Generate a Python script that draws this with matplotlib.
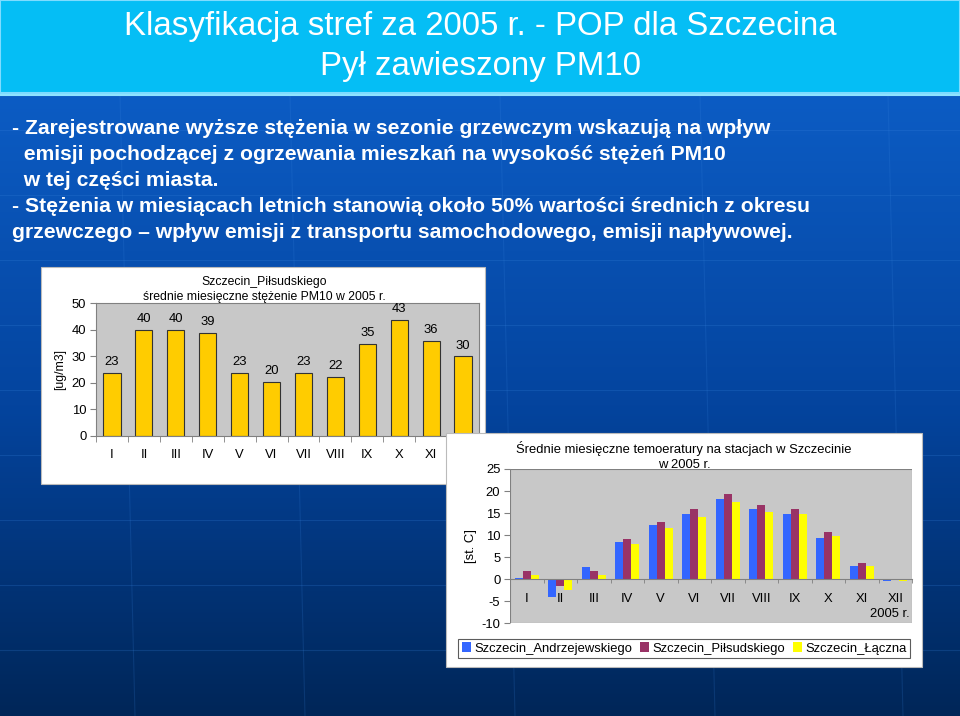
import numpy as np
import matplotlib
matplotlib.use("Agg")
import matplotlib.pyplot as plt
from matplotlib.patches import Rectangle

plt.rcParams['font.family'] = ['Liberation Sans', 'DejaVu Sans']
plt.rcParams['axes.unicode_minus'] = False

# ---------------- data ----------------
months = ["I", "II", "III", "IV", "V", "VI", "VII", "VIII", "IX", "X", "XI", "XII"]
pm10 = [23.6, 40.0, 40.0, 38.9, 23.6, 20.2, 23.6, 22.1, 34.7, 43.5, 35.8, 29.9]
pm10_labels = ["23", "40", "40", "39", "23", "20", "23", "22", "35", "43", "36", "30"]

temp_andrzejewskiego = [0.3, -4.1, 2.65, 8.3, 12.3, 14.8, 18.2, 16.0, 14.8, 9.4, 2.95, -0.5]
temp_pilsudskiego = [1.8, -1.7, 1.8, 9.2, 13.0, 16.0, 19.4, 16.9, 16.0, 10.6, 3.6, 0.0]
temp_laczna = [0.8, -2.5, 0.8, 7.9, 11.5, 14.0, 17.6, 15.3, 14.8, 9.7, 3.0, -0.5]
series_names = ["Szczecin_Andrzejewskiego", "Szczecin_Piłsudskiego", "Szczecin_Łączna"]
series_colors = ["#3366FF", "#993366", "#FFFF00"]

title_lines = ["Klasyfikacja stref za 2005 r. - POP dla Szczecina", "Pył zawieszony PM10"]
body_lines = [
    "- Zarejestrowane wyższe stężenia w sezonie grzewczym wskazują na wpływ",
    "  emisji pochodzącej z ogrzewania mieszkań na wysokość stężeń PM10",
    "  w tej części miasta.",
    "- Stężenia w miesiącach letnich stanowią około 50% wartości średnich z okresu",
    "grzewczego – wpływ emisji z transportu samochodowego, emisji napływowej.",
]

W, H = 960, 716
FS = 9.4
FS1 = 8.8
fig = plt.figure(figsize=(W / 100, H / 100), dpi=100)

def fbox(x0, y0, x1, y1):
    return [x0 / W, 1 - y1 / H, (x1 - x0) / W, (y1 - y0) / H]

# ---------------- background ----------------
bg = fig.add_axes([0, 0, 1, 1])
bg.set_xlim(0, W)
bg.set_ylim(H, 0)
bg.axis("off")
top = np.array([12, 92, 196]) / 255
mid = np.array([4, 68, 158]) / 255
bot = np.array([0, 38, 88]) / 255
t = np.linspace(0, 1, 300)[:, None]
grad = np.where(t < 0.5, top + (mid - top) * (t / 0.5), mid + (bot - mid) * ((t - 0.5) / 0.5))
grad = np.repeat(grad[:, None, :], 2, axis=1)
bg.imshow(grad, extent=[0, W, H, 95], aspect="auto", zorder=0)
for yy in [130, 195, 260, 325, 390, 455, 520, 585, 650]:
    bg.plot([0, W], [yy, yy], color="#3A86E0", lw=0.8, alpha=0.22, zorder=1)
for xx in [120, 290, 500, 700, 888]:
    bg.plot([xx, xx + 15], [95, H], color="#3A86E0", lw=0.8, alpha=0.18, zorder=1)
bg.add_patch(Rectangle((0, 0), W, 93, facecolor="#05BEF5", edgecolor="#7FDCFF", lw=1.5, zorder=2))
bg.plot([0, W], [94.5, 94.5], color="#8FE3FF", lw=1.5, zorder=2)

bg.text(480, 27, title_lines[0], color="white", fontsize=23.8, ha="center", va="center", zorder=3)
bg.text(480, 67, title_lines[1], color="white", fontsize=23.8, ha="center", va="center", zorder=3)
for i, line in enumerate(body_lines):
    bg.text(12, 129 + i * 26, line, color="white", fontsize=15.2, fontweight="bold",
            ha="left", va="center", zorder=3)

# ---------------- chart 1 ----------------
bg.add_patch(Rectangle((41, 267), 444, 217, facecolor="white", edgecolor="#BBBBBB", lw=0.8, zorder=4))
ax1 = fig.add_axes(fbox(96, 303, 479, 436))
ax1.set_zorder(5)
ax1.set_facecolor("#C8C8C8")
x = np.arange(len(months))
ax1.bar(x, pm10, width=0.54, color="#FFCC00", edgecolor="#333333", lw=0.8)
for xi, v, lab in zip(x, pm10, pm10_labels):
    ax1.annotate(lab, (xi, v), xytext=(0, 3.5), textcoords="offset points",
                 ha="center", va="bottom", fontsize=FS)
ax1.set_xlim(-0.5, 11.5)
ax1.set_ylim(0, 50)
ax1.set_yticks([0, 10, 20, 30, 40, 50])
ax1.set_xticks(x)
ax1.set_xticklabels(months)
ax1.set_xticks(np.arange(-0.5, 12, 1), minor=True)
ax1.tick_params(axis="x", which="major", length=0, pad=9, labelsize=FS)
ax1.tick_params(axis="x", which="minor", length=4, color="#808080")
ax1.tick_params(axis="y", length=4, color="#808080", labelsize=FS, pad=3)
for s in ax1.spines.values():
    s.set_color("#808080")
    s.set_linewidth(0.8)
ax1.set_ylabel("[ug/m3]", fontsize=FS1, labelpad=4)
bg.text(264, 282, "Szczecin_Piłsudskiego", fontsize=FS1, ha="center", va="center", zorder=6)
bg.text(264, 297, "średnie miesięczne stężenie PM10 w 2005 r.", fontsize=FS1, ha="center", va="center", zorder=6)

# ---------------- chart 2 ----------------
bg2 = fig.add_axes([0, 0, 1, 1])
bg2.set_zorder(7)
bg2.set_xlim(0, W)
bg2.set_ylim(H, 0)
bg2.axis("off")
bg2.patch.set_alpha(0)
bg2.add_patch(Rectangle((446, 433), 476, 234, facecolor="white", edgecolor="#BBBBBB", lw=0.8))
bg2.text(684, 449, "Średnie miesięczne temoeratury na stacjach w Szczecinie", fontsize=FS, ha="center", va="center")

ax2 = fig.add_axes(fbox(510, 469, 912, 623))
ax2.set_zorder(8)
ax2.set_facecolor("#C8C8C8")
bw = 0.24
for k, (vals, col, name) in enumerate(zip([temp_andrzejewskiego, temp_pilsudskiego, temp_laczna],
                                          series_colors, series_names)):
    ax2.bar(x + (k - 1) * bw, vals, width=bw, color=col, label=name, lw=0)
ax2.set_xlim(-0.5, 11.5)
ax2.set_ylim(-10, 25)
ax2.set_yticks([-10, -5, 0, 5, 10, 15, 20, 25])
for name in ["top", "right", "left"]:
    ax2.spines[name].set_visible(False)
ax2.spines["bottom"].set_position(("data", 0))
ax2.spines["bottom"].set_color("#808080")
ax2.add_patch(Rectangle((0, 0), 1, 1, transform=ax2.transAxes, fill=False, edgecolor="#808080", lw=0.8))
ax2.set_xticks(x)
ax2.set_xticklabels(months)
ax2.set_xticks(np.arange(-0.5, 12, 1), minor=True)
ax2.tick_params(axis="x", which="major", length=0, pad=10, labelsize=FS)
ax2.tick_params(axis="x", which="minor", length=3, color="#808080")
ax2.tick_params(axis="y", length=4, color="#808080", labelsize=FS, pad=3)
ax2.set_ylabel("[st. C]", fontsize=FS, labelpad=3)
ax2.text(0.995, 0.06, "2005 r.", transform=ax2.transAxes, ha="right", va="center", fontsize=FS)
bg2.text(684, 465, "w 2005 r.", fontsize=FS, ha="center", va="center", zorder=20)

leg = ax2.legend(loc="center", bbox_to_anchor=(684 / W, 1 - 648.5 / H), bbox_transform=fig.transFigure,
                 ncol=3, fontsize=FS, frameon=True, fancybox=False, edgecolor="#333333",
                 handlelength=0.7, handleheight=0.7, handletextpad=0.25, columnspacing=0.6,
                 borderpad=0.3, borderaxespad=0)
leg.get_frame().set_linewidth(0.8)

fig.savefig("out.png", dpi=100)
